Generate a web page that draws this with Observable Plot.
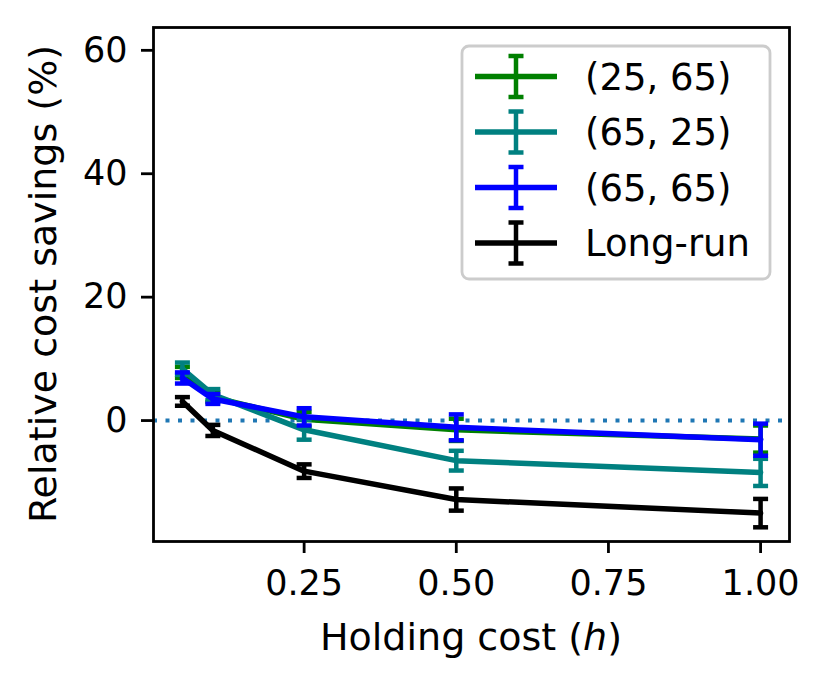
<!DOCTYPE html>
<html>
<head>
<meta charset="utf-8">
<script src="https://cdn.jsdelivr.net/npm/d3@7"></script>
<script src="https://cdn.jsdelivr.net/npm/@observablehq/plot@0.6"></script>
<style>
  html, body { margin: 0; padding: 0; background: white; }
</style>
</head>
<body>
<div id="chart"></div>
<script>
// ---- data ----
const holdingCost = [0.05, 0.1, 0.25, 0.5, 1.0];
const seriesNames = ["(25, 65)", "(65, 25)", "(65, 65)", "Long-run"];
const seriesColors = ["#008000", "#008080", "#0000ff", "#000000"];
const vals2565 = [7.8, 3.8, 0.2, -1.5, -3.0];
const err2565  = [0.9, 0.8, 1.2, 1.8, 2.2];
const vals6525 = [8.4, 4.2, -1.5, -6.5, -8.4];
const err6525  = [1.0, 0.9, 1.6, 1.6, 2.2];
const vals6565 = [6.9, 3.5, 0.6, -1.1, -3.1];
const err6565  = [0.9, 0.8, 1.4, 2.1, 2.6];
const valsLong = [3.1, -1.6, -8.2, -12.8, -15.0];
const errLong  = [0.7, 0.9, 1.1, 1.8, 2.3];
const xTicks = [0.25, 0.5, 0.75, 1.0];
const yTicks = [0, 20, 40, 60];

const seriesVals = [vals2565, vals6525, vals6565, valsLong];
const seriesErrs = [err2565, err6525, err6565, errLong];
const rows = [];
seriesNames.forEach((name, i) => {
  holdingCost.forEach((h, j) => {
    rows.push({series: name, h, v: seriesVals[i][j], e: seriesErrs[i][j]});
  });
});

const capSymbol = {
  draw(context, size) {
    const w = Math.sqrt(size / Math.PI);
    context.moveTo(-w, 0);
    context.lineTo(w, 0);
  }
};

const FONT = "DejaVu Sans";
const FS = 35;
const LABEL_FS = 38;
const LEGEND_FS = 37;
const LW = 5.5;
const EW = 4.5;

const marks = [
  Plot.ruleY([0], {stroke: "#1f77b4", strokeWidth: 4, strokeDasharray: "4,8.5"})
];
seriesNames.forEach((name, i) => {
  const d = rows.filter(r => r.series === name);
  const c = seriesColors[i];
  marks.push(
    Plot.line(d, {x: "h", y: "v", stroke: c, strokeWidth: LW}),
    Plot.ruleX(d, {x: "h", y1: r => r.v - r.e, y2: r => r.v + r.e, stroke: c, strokeWidth: EW}),
    Plot.dot(d, {x: "h", y: r => r.v - r.e, symbol: capSymbol, r: 7.5, stroke: c, strokeWidth: EW, fill: "none"}),
    Plot.dot(d, {x: "h", y: r => r.v + r.e, symbol: capSymbol, r: 7.5, stroke: c, strokeWidth: EW, fill: "none"})
  );
});
marks.push(Plot.frame({stroke: "black", strokeWidth: 2.8}));

const chart = Plot.plot({
  width: 829,
  height: 690,
  marginLeft: 153,
  marginRight: 40,
  marginTop: 27,
  marginBottom: 149,
  style: {fontFamily: FONT, fontSize: FS + "px", color: "black", background: "white"},
  x: {domain: [0.0025, 1.0475], ticks: xTicks, tickFormat: d3.format(".2f"), tickSize: 12, tickPadding: 17, label: null},
  y: {domain: [-19.6, 63.7], ticks: yTicks, tickSize: 12, tickPadding: 14, label: null},
  marks
});
document.getElementById("chart").appendChild(chart);

// style axis ticks
d3.select(chart).selectAll("[aria-label='x-axis tick'], [aria-label='y-axis tick']")
  .attr("stroke-width", 2.8);

const svg = d3.select(chart);
// axis titles
svg.append("text")
  .attr("x", (153 + 789) / 2).attr("y", 650)
  .attr("text-anchor", "middle")
  .attr("font-family", FONT).attr("font-size", LABEL_FS)
  .call(t => {
    t.append("tspan").text("Holding cost (");
    t.append("tspan").attr("font-style", "italic").text("h");
    t.append("tspan").text(")");
  });
svg.append("text")
  .attr("transform", `translate(56, ${(27 + 541) / 2}) rotate(-90)`)
  .attr("text-anchor", "middle")
  .attr("font-family", FONT).attr("font-size", LABEL_FS)
  .text("Relative cost savings (%)");

// legend
const lg = svg.append("g");
lg.append("rect")
  .attr("x", 462).attr("y", 46).attr("width", 308).attr("height", 233)
  .attr("rx", 7).attr("fill", "white").attr("fill-opacity", 0.8)
  .attr("stroke", "#cccccc").attr("stroke-width", 2.8);
seriesNames.forEach((name, i) => {
  const cy = 76.5 + i * 55.5;
  const c = seriesColors[i];
  lg.append("line").attr("x1", 475).attr("x2", 557).attr("y1", cy).attr("y2", cy)
    .attr("stroke", c).attr("stroke-width", LW);
  lg.append("line").attr("x1", 516).attr("x2", 516).attr("y1", cy - 20.5).attr("y2", cy + 20.5)
    .attr("stroke", c).attr("stroke-width", EW);
  [cy - 20.5, cy + 20.5].forEach(yy => lg.append("line")
    .attr("x1", 508.5).attr("x2", 523.5).attr("y1", yy).attr("y2", yy)
    .attr("stroke", c).attr("stroke-width", EW));
  lg.append("text").attr("x", 585).attr("y", cy + 13)
    .attr("text-anchor", "start")
    .attr("font-family", FONT).attr("font-size", LEGEND_FS).attr("fill", "black")
    .text(name);
});
</script>
</body>
</html>
